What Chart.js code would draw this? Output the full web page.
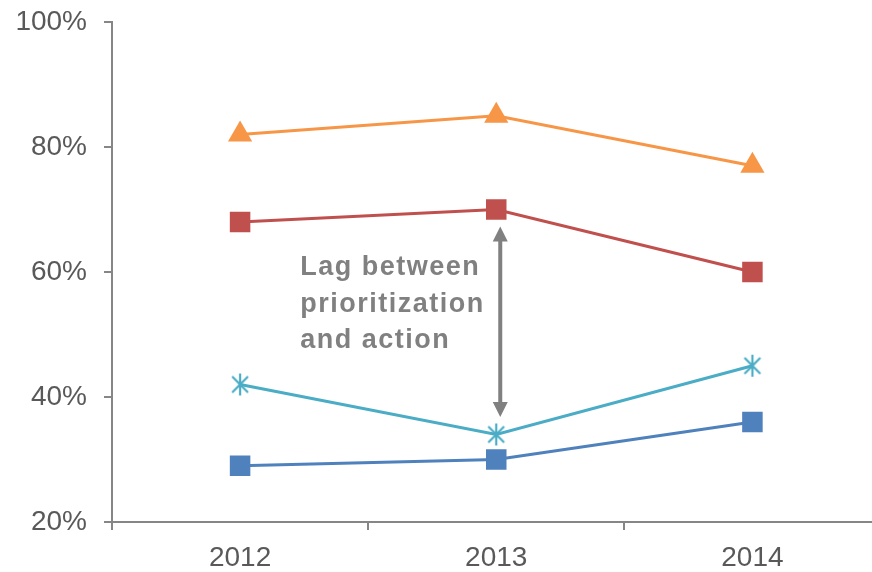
<!DOCTYPE html>
<html>
<head>
<meta charset="utf-8">
<title>Lag between prioritization and action</title>
<style>
    html, body { margin: 0; padding: 0; background: #fff; overflow: hidden; }
    #wrap { width: 895px; height: 572px; }
</style>
<script src="https://cdn.jsdelivr.net/npm/chart.js@4.4.1/dist/chart.umd.min.js"></script>
</head>
<body>
<div id="wrap"><canvas id="cvLag" width="895" height="572"></canvas></div>
<script>
// ---- data (percent) ----
const years = ["2012", "2013", "2014"];
const seriesTop = [82, 85, 77];
const seriesHigh = [68, 70, 60];
const seriesMid = [42, 34, 45];
const seriesLow = [29, 30, 36];
const yTicks = [20, 40, 60, 80, 100];

// callout between the 2013 points
const lagNote = ["Lag between", "prioritization", "and action"];
const lagSpan = [67.3, 36.8]; // arrow tips, percent

(function (window, document) {
    "use strict";

    const FONT = "'Liberation Sans', Arial, sans-serif";
    const AXIS = "#868686";
    const LABEL = "#595959";
    const NOTE = "#808080";

    const COLORS = {
        top: "#F79646",
        high: "#C0504D",
        mid: "#4BACC6",
        low: "#4F81BD"
    };

    // Excel-style asterisk marker: vertical bar plus an X
    function makeAsterisk(size, color, lw) {
        const c = document.createElement("canvas");
        c.width = size; c.height = size;
        const g = c.getContext("2d");
        const m = size / 2, r = size / 2 - 1, d = r * 0.72;
        g.strokeStyle = color;
        g.lineWidth = lw;
        g.lineCap = "butt";
        g.beginPath();
        g.moveTo(m, m - r); g.lineTo(m, m + r);
        g.moveTo(m - d, m - d); g.lineTo(m + d, m + d);
        g.moveTo(m + d, m - d); g.lineTo(m - d, m + d);
        g.stroke();
        return c;
    }

    function line(label, data, color, style, radius) {
        return {
            label,
            data,
            borderColor: color,
            backgroundColor: color,
            borderWidth: 3,
            tension: 0,
            pointStyle: style,
            pointRadius: radius,
            pointBorderWidth: 0,
            pointBackgroundColor: color,
            pointBorderColor: color
        };
    }

    const lagNotePlugin = {
        id: "lagNote",
        afterDatasetsDraw(chart) {
            const { ctx, scales: { x, y } } = chart;
            const cx = x.getPixelForValue(1);
            const ax = cx + 4;
            const y0 = y.getPixelForValue(lagSpan[0]);
            const y1 = y.getPixelForValue(lagSpan[1]);
            const head = 15, half = 7.5;

            ctx.save();
            ctx.strokeStyle = NOTE;
            ctx.fillStyle = NOTE;
            ctx.lineWidth = 4;
            ctx.beginPath();
            ctx.moveTo(ax, y0 + head - 1);
            ctx.lineTo(ax, y1 - head + 1);
            ctx.stroke();

            ctx.beginPath();
            ctx.moveTo(ax, y0);
            ctx.lineTo(ax - half, y0 + head);
            ctx.lineTo(ax + half, y0 + head);
            ctx.closePath();
            ctx.fill();

            ctx.beginPath();
            ctx.moveTo(ax, y1);
            ctx.lineTo(ax - half, y1 - head);
            ctx.lineTo(ax + half, y1 - head);
            ctx.closePath();
            ctx.fill();

            ctx.font = "bold 27px " + FONT;
            if ("letterSpacing" in ctx) ctx.letterSpacing = "1.5px";
            ctx.textAlign = "left";
            ctx.textBaseline = "alphabetic";
            const tx = cx - 196;
            const base = y.getPixelForValue(60) + 3;
            lagNote.forEach((t, i) => ctx.fillText(t, tx, base + i * 36.5));
            ctx.restore();
        }
    };

    function init() {
        const canvas = document.getElementById("cvLag");
        if (!canvas || typeof Chart === "undefined") return;

        new Chart(canvas.getContext("2d"), {
            type: "line",
            data: {
                labels: years,
                datasets: [
                    line("Series 1", seriesTop, COLORS.top, "triangle", 14),
                    line("Series 2", seriesHigh, COLORS.high, "rect", 14.5),
                    line("Series 3", seriesMid, COLORS.mid, makeAsterisk(24, COLORS.mid, 2.2), 11),
                    line("Series 4", seriesLow, COLORS.low, "rect", 14.5)
                ]
            },
            options: {
                responsive: false,
                animation: false,
                events: [],
                layout: { padding: { top: 22, right: 0, bottom: 0, left: 0 } },
                plugins: {
                    legend: { display: false },
                    tooltip: { enabled: false }
                },
                scales: {
                    x: {
                        offset: true,
                        grid: {
                            offset: true,
                            drawOnChartArea: false,
                            drawTicks: true,
                            tickLength: 8,
                            color: AXIS,
                            lineWidth: 2
                        },
                        border: { color: AXIS, width: 2 },
                        ticks: {
                            color: LABEL,
                            font: { family: FONT, size: 28 },
                            padding: 11
                        },
                        afterFit(s) {
                            s.height = 50;
                            s.paddingLeft = 0;
                            s.paddingRight = 0;
                        }
                    },
                    y: {
                        min: 20,
                        max: 100,
                        afterBuildTicks(s) { s.ticks = yTicks.map(v => ({ value: v })); },
                        grid: {
                            drawOnChartArea: false,
                            drawTicks: true,
                            tickLength: 8,
                            color: AXIS,
                            lineWidth: 2
                        },
                        border: { color: AXIS, width: 2 },
                        ticks: {
                            color: LABEL,
                            font: { family: FONT, size: 28 },
                            padding: 17,
                            callback: v => v + "%"
                        },
                        afterFit(s) {
                            s.width = 112;
                            s.paddingTop = 0;
                            s.paddingBottom = 0;
                        }
                    }
                }
            },
            plugins: [lagNotePlugin]
        });
    }

    init();
})(window, document);
</script>
</body>
</html>
